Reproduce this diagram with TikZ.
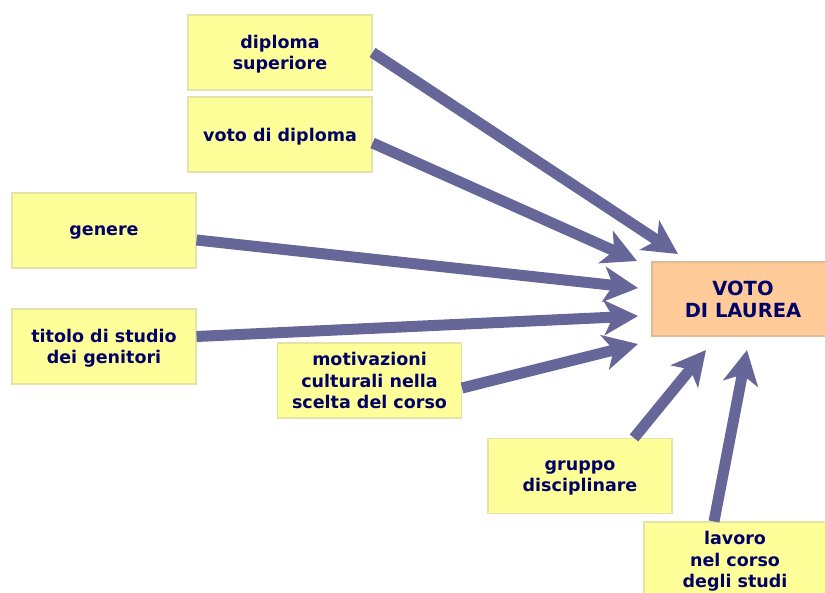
\documentclass[tikz,border=0pt]{standalone}
\usepackage{fontspec}
\setmainfont{DejaVu Sans}
\usetikzlibrary{arrows.meta,calc,positioning}
\definecolor{FlowInk}{HTML}{000066}
\definecolor{FlowArrow}{HTML}{666699}
\definecolor{FactorFill}{HTML}{FFFF99}
\definecolor{FactorLine}{HTML}{E3E3A8}
\definecolor{GoalFill}{HTML}{FFCC99}
\definecolor{GoalLine}{HTML}{DDBB99}
\tikzset{
  every node/.style={font=\bfseries\fontsize{17.5}{21.5}\selectfont, text=FlowInk},
  factor/.style={draw=FactorLine, fill=FactorFill, line width=1.1pt, minimum width=184pt, minimum height=75pt, align=center, inner sep=0pt, text depth=0pt},
  goal/.style={factor, draw=GoalLine, fill=GoalFill, minimum width=182pt, minimum height=74pt, font=\bfseries\fontsize{19.5}{22}\selectfont},
  effect/.style={-{Stealth[length=34pt,width=35pt,inset=9pt]}, draw=FlowArrow, line width=11pt},
}

\begin{document}
\begin{tikzpicture}[x=1pt, y=-1pt]
  \useasboundingbox (0,0) rectangle (825,592);
  \clip (0,0) rectangle (825,592);
  % Factors
  \node[factor] (dipsup) at (280,52.5) {diploma\\superiore};
  \node[factor] (votodip) at (280,134.5) {voto di diploma};
  \node[factor] (genere) at (104,230.5) {genere};
  \node[factor] (titolo) at (104,346.5) {titolo di studio\\dei genitori};
  \node[factor] (motiv) at (369.5,380.5) {motivazioni\\culturali nella\\scelta del corso};
  \node[factor] (gruppo) at (580,476) {gruppo\\disciplinare};
  \node[factor, minimum width=182pt] (lavoro) at (735,559.5) {lavoro\\nel corso\\degli studi};
  % Outcome
  \node[goal] (laurea) at (743,299) {VOTO\\DI LAUREA};
  % Arrow tips round the outcome
  \coordinate (tipdipsup) at (678,254);
  \coordinate (tipvotodip) at (637,261);
  \coordinate (tipgenere) at (638,288);
  \coordinate (tiptitolo) at (638,316);
  \coordinate (tipmotiv) at (638,344);
  \coordinate (tipgruppo) at (706,350);
  \coordinate (tiplavoro) at (747,350);
  % Effects
  \draw[effect] (dipsup.east) -- (tipdipsup);
  \draw[effect] ([yshift=-8.5pt]votodip.east) -- (tipvotodip);
  \draw[effect] ([yshift=-9.5pt]genere.east) -- (tipgenere);
  \draw[effect] ([yshift=10pt]titolo.east) -- (tiptitolo);
  \draw[effect] ([yshift=-7.5pt]motiv.east) -- (tipmotiv);
  \draw[effect] ([xshift=54pt]gruppo.north) -- (tipgruppo);
  \draw[effect] ([xshift=-21pt]lavoro.north) -- (tiplavoro);
\end{tikzpicture}
\end{document}
